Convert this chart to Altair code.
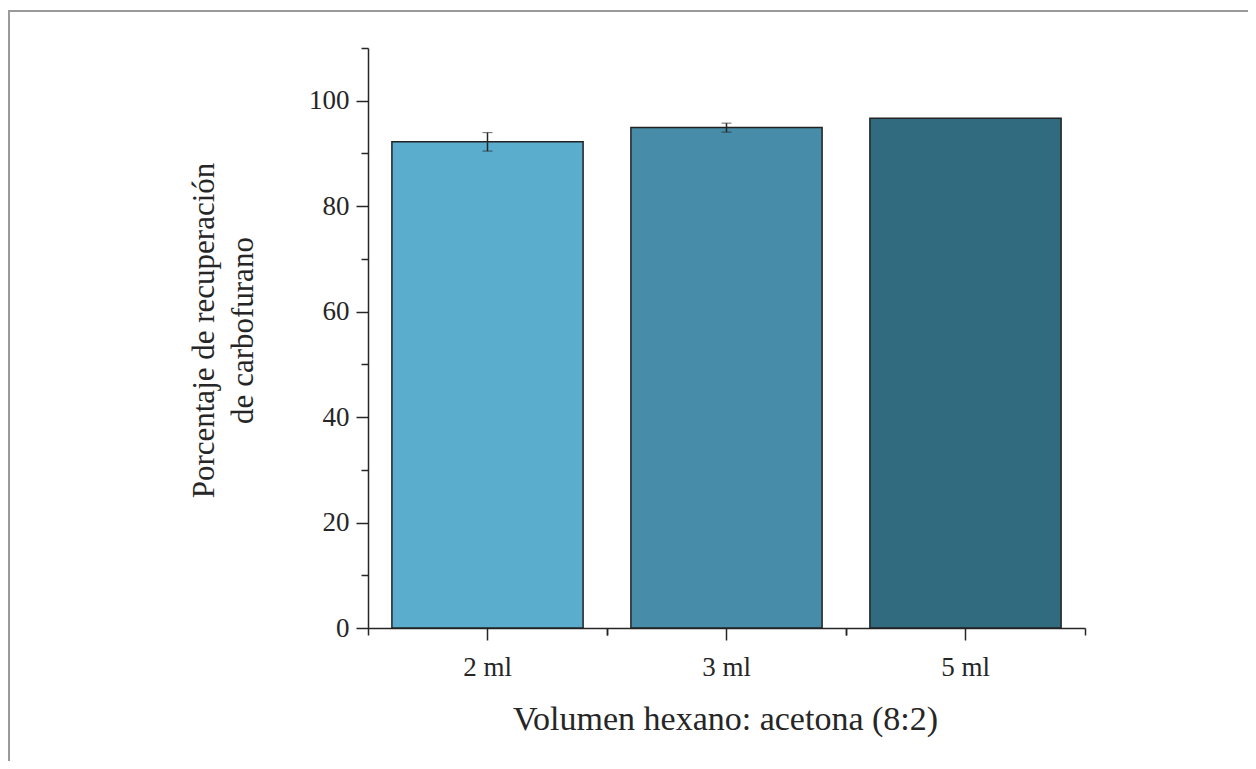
import altair as alt
import pandas as pd

categories = ["2 ml", "3 ml", "5 ml"]
recovery = [92.2, 94.9, 96.7]
errors = [1.75, 0.85, 0.0]
bar_colors = ["#5aadcd", "#478ca8", "#316b80"]
y_major = [0, 20, 40, 60, 80, 100]
y_minor = [10, 30, 50, 70, 90, 110]

df = pd.DataFrame({"vol": categories, "rec": recovery, "err": errors})

FONT = "Liberation Serif"
INK = "#262626"

xscale = alt.Scale(domain=categories, paddingInner=0.2, paddingOuter=0.1)
yscale = alt.Scale(domain=[0, 110], nice=False, zero=True)

frame = alt.Chart(pd.DataFrame({"k": [0]})).mark_rect(
    fill="white", fillOpacity=0, stroke="#9a9a9a", strokeWidth=2
).encode(
    x=alt.value(-359), x2=alt.value(900), y=alt.value(-37), y2=alt.value(760)
)

bars = alt.Chart(df).mark_bar(stroke="#222222", strokeWidth=1.5).encode(
    x=alt.X("vol:N", scale=xscale, sort=categories, axis=alt.Axis(
        orient="bottom", title="Volumen hexano: acetona (8:2)", labelAngle=0,
        tickSize=12, bandPosition=0.5, labelPadding=14, labelFontSize=27,
        titleFontSize=34, titleX=357, titleY=101, titleBaseline="alphabetic",
        titleAlign="center")),
    y=alt.Y("rec:Q", scale=yscale, axis=alt.Axis(
        orient="left", values=y_major, tickSize=12, labelPadding=7, labelFontSize=27,
        title=["Porcentaje de recuperación", "de carbofurano"], titleFontSize=31,
        titleLineHeight=39, titleX=-155, titleY=282, titleAngle=270,
        titleAlign="center", titleBaseline="alphabetic")),
    color=alt.Color("vol:N", scale=alt.Scale(domain=categories, range=bar_colors), legend=None),
)

errbars = alt.Chart(df).transform_filter("datum.err > 0").mark_errorbar(
    color=INK, ticks={"size": 10, "strokeWidth": 1.5}, rule={"strokeWidth": 1.5}
).encode(
    x=alt.X("vol:N", scale=xscale, sort=categories, axis=None),
    y=alt.Y("rec:Q", scale=yscale, axis=None),
    yError="err:Q",
)

minor_a = alt.Chart(df).mark_point(opacity=0).encode(
    x=alt.X("vol:N", scale=xscale, sort=categories, axis=alt.Axis(
        orient="bottom", bandPosition=-0.125, tickSize=7, labels=False, domain=False, title=None)),
    y=alt.Y("rec:Q", scale=yscale, axis=alt.Axis(
        orient="left", values=y_minor, tickSize=7, labels=False, domain=False, title=None)),
)

minor_b = alt.Chart(df).mark_point(opacity=0).encode(
    x=alt.X("vol:N", scale=xscale, sort=categories, axis=alt.Axis(
        orient="bottom", bandPosition=1.125, tickSize=7, labels=False, domain=False, title=None)),
    y=alt.Y("rec:Q", scale=yscale, axis=None),
)

chart = alt.layer(frame, bars, errbars, minor_a, minor_b).resolve_axis(
    x="independent", y="independent"
).properties(
    width=717, height=580,
    padding={"left": 360, "top": 40, "right": 163, "bottom": 133},
    autosize=alt.AutoSizeParams(type="none"),
).configure_view(stroke=None).configure_axis(
    labelFont=FONT, titleFont=FONT, labelColor=INK, titleColor=INK,
    domainColor=INK, tickColor=INK, domainWidth=1.5, tickWidth=1.5,
    grid=False, titleFontWeight="normal",
)

chart.save("out.html", embed_options={"renderer": "svg", "actions": False})
